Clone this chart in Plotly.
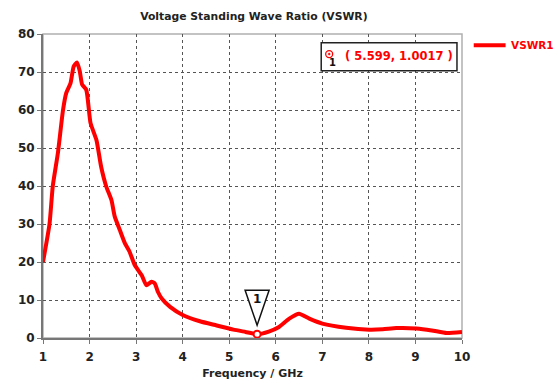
import plotly.graph_objects as go

# VSWR sweep of the antenna port (frequency in GHz)
freq_ghz = [1.0, 1.14, 1.21, 1.32, 1.43, 1.5, 1.59, 1.66, 1.73, 1.79, 1.84, 1.93,
            2.02, 2.15, 2.25, 2.36, 2.47, 2.54, 2.65, 2.76, 2.86, 2.97, 3.12, 3.22,
            3.33, 3.4, 3.47, 3.55, 3.73, 4.01, 4.37, 4.73, 5.09, 5.35, 5.599, 5.85,
            6.07, 6.29, 6.5, 6.72, 7.0, 7.51, 8.01, 8.3, 8.59, 9.02, 9.35, 9.67, 10.0]
vswr = [20.0, 30.0, 40.0, 48.7, 60.0, 64.5, 67.0, 71.5, 72.5, 70.2, 66.7, 65.3,
        56.6, 52.0, 45.0, 39.8, 36.3, 32.0, 28.4, 24.9, 22.7, 19.2, 16.5, 13.9,
        14.8, 14.4, 12.1, 10.4, 8.2, 6.0, 4.4, 3.3, 2.2, 1.6, 1.0017, 1.7,
        2.9, 5.1, 6.4, 5.1, 3.8, 2.7, 2.2, 2.3, 2.6, 2.5, 2.0, 1.3, 1.6]

marker_freq = 5.599
marker_vswr = 1.0017
marker_label = "( 5.599, 1.0017 )"
series_name = "VSWR1"
x_ticks = [1, 2, 3, 4, 5, 6, 7, 8, 9, 10]
y_ticks = [0, 10, 20, 30, 40, 50, 60, 70, 80]

RED = "#ff0000"
FONT = "DejaVu Sans"

fig = go.Figure()
fig.add_trace(go.Scatter(x=freq_ghz, y=vswr, mode="lines", name=series_name,
                         line=dict(color=RED, width=4, shape="spline", smoothing=0.5),
                         showlegend=False))
fig.add_trace(go.Scatter(x=[marker_freq], y=[marker_vswr], mode="markers",
                         marker=dict(symbol="circle", size=7, color="white",
                                     line=dict(color=RED, width=2)),
                         showlegend=False))

shapes = []
# Light frame on top and right
shapes.append(dict(type="rect", xref="paper", yref="paper", x0=0, x1=1, y0=0, y1=1,
                   line=dict(color="#b0b0b0", width=1.5), layer="below"))
# Marker readout box
shapes.append(dict(type="rect", xref="paper", yref="paper", x0=0.664, x1=0.988,
                   y0=0.879, y1=0.971, line=dict(color="#222", width=1.5),
                   fillcolor="white"))
shapes.append(dict(type="circle", xref="paper", yref="paper", xsizemode="pixel",
                   ysizemode="pixel", xanchor=0.683, yanchor=0.934,
                   x0=-3.5, x1=3.5, y0=-3.5, y1=3.5, line=dict(color=RED, width=1.3)))
shapes.append(dict(type="circle", xref="paper", yref="paper", xsizemode="pixel",
                   ysizemode="pixel", xanchor=0.683, yanchor=0.934,
                   x0=-1, x1=1, y0=-1, y1=1, fillcolor=RED, line=dict(color=RED, width=0.5)))
# Marker flag (inverted triangle) above the minimum
shapes.append(dict(type="path", xref="x", yref="y", xsizemode="pixel", ysizemode="pixel",
                   xanchor=marker_freq, yanchor=marker_vswr,
                   path="M-12,44 L12,44 L0,9 Z", line=dict(color="#111", width=1.5),
                   fillcolor="white"))
# Legend swatch
shapes.append(dict(type="line", xref="paper", yref="paper", x0=1.028, x1=1.104,
                   y0=0.963, y1=0.963, line=dict(color=RED, width=4)))

annotations = [
    dict(text=marker_label, xref="paper", yref="paper", x=0.85, y=0.928,
         showarrow=False, font=dict(family=FONT, size=11.5, color=RED, weight="bold"),
         xanchor="center", yanchor="middle"),
    dict(text="1", xref="paper", yref="paper", x=0.692, y=0.905,
         showarrow=False, font=dict(family=FONT, size=10, color="#111", weight="bold"),
         xanchor="center", yanchor="middle"),
    dict(text="1", x=marker_freq, y=marker_vswr, xref="x", yref="y", yshift=35,
         showarrow=False, font=dict(family=FONT, size=12, color="#111", weight="bold"),
         xanchor="center", yanchor="middle"),
    dict(text=series_name, xref="paper", yref="paper", x=1.113, y=0.963,
         showarrow=False, font=dict(family=FONT, size=10.5, color=RED, weight="bold"),
         xanchor="left", yanchor="middle"),
]

axis_common = dict(
    showgrid=True, gridcolor="#555", griddash="dot", gridwidth=1,
    showline=True, linecolor="#777", linewidth=2,
    ticks="outside", ticklen=4, tickcolor="#777", tickwidth=1,
    zeroline=False, automargin=False,
    tickfont=dict(family=FONT, size=12, color="#222", weight="bold"),
)

fig.update_layout(
    width=558, height=383,
    margin=dict(l=43, r=96, t=34, b=45),
    paper_bgcolor="white", plot_bgcolor="white",
    title=dict(text="Voltage Standing Wave Ratio (VSWR)", x=0.455, xanchor="center",
               y=0.958, yanchor="middle",
               font=dict(family=FONT, size=10.8, color="#222", weight="bold")),
    xaxis=dict(range=[1, 10], tickvals=x_ticks, ticklabelstandoff=3, **axis_common,
               title=dict(text="Frequency / GHz", standoff=6,
                          font=dict(family=FONT, size=11, color="#222", weight="bold"))),
    yaxis=dict(range=[0, 80], tickvals=y_ticks, **axis_common),
    shapes=shapes, annotations=annotations,
)

fig.write_html("out.html")
